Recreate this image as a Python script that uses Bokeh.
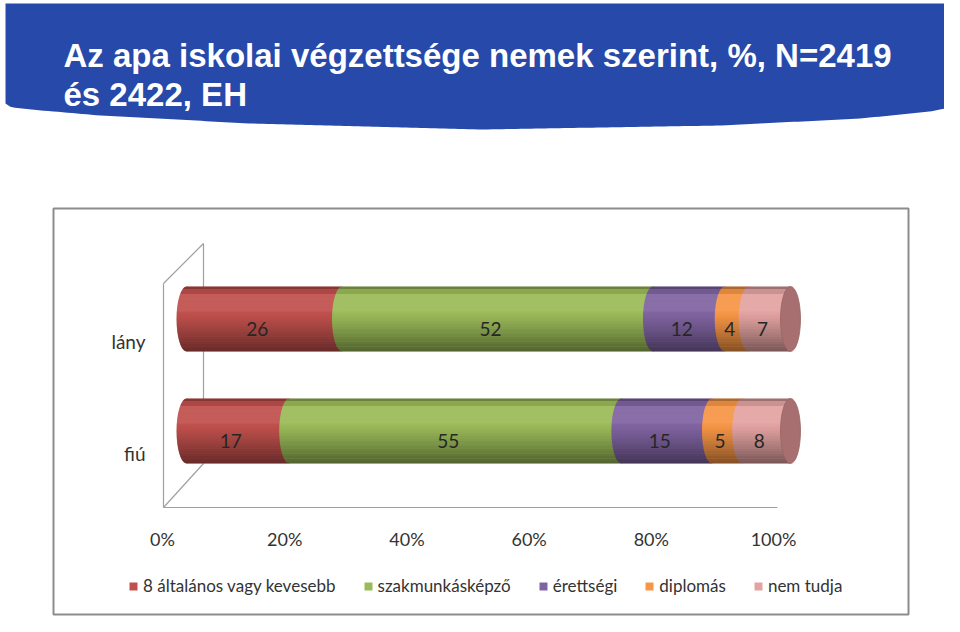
import numpy as np
from bokeh.plotting import figure
from bokeh.models import Range1d, Legend, LegendItem, ColumnDataSource
from bokeh.core.properties import value
from bokeh.embed import file_html
from bokeh.resources import INLINE

# ---------------- data ----------------
title_lines = ["Az apa iskolai végzettsége nemek szerint, %, N=2419", "és 2422, EH"]
groups = ["lány", "fiú"]
series = ["8 általános vagy kevesebb", "szakmunkásképző", "érettségi", "diplomás", "nem tudja"]
lany = [26, 52, 12, 4, 7]
fiu = [17, 55, 15, 5, 8]
colors = ["#C0504D", "#9BBB59", "#8064A2", "#F79646", "#E3A3A2"]
ticks = [0, 20, 40, 60, 80, 100]
tick_labels = ["0%", "20%", "40%", "60%", "80%", "100%"]

# ---------------- geometry (screen px) ----------------
W, H = 944, 616
PCT0_PX, PCT_PX = 186.0, 6.04      # bar 0% position and px per percent
AX0_PX, AX_PX = 162.0, 6.11        # axis label 0% position and px per percent
CAT0_PX, CAT_PX = 318.5, 112.0     # first bar centre and px per category
BAR_HALF = 32.5 / CAT_PX           # bar half height in category units
CAP_HALF = 10.0 / PCT_PX           # half width of the cylinder ends in percent units

p = figure(width=W, height=H, output_backend="svg", toolbar_location=None,
           x_range=Range1d(0, W), y_range=Range1d(H, 0),
           x_axis_type=None, y_axis_type=None, min_border=0)
p.outline_line_color = None
p.background_fill_color = "white"
p.border_fill_color = "white"

pct_start = -PCT0_PX / PCT_PX
p.extra_x_ranges["pct"] = Range1d(pct_start, pct_start + W / PCT_PX)
ax_start = -AX0_PX / AX_PX
p.extra_x_ranges["axis"] = Range1d(ax_start, ax_start + W / AX_PX)
cat_top = -CAT0_PX / CAT_PX
p.extra_y_ranges["cat"] = Range1d(cat_top + H / CAT_PX, cat_top)

# ---------------- header banner ----------------
bx = np.linspace(5, 955, 200)
edge_x = [5, 6, 12, 30, 100, 250, 480, 720, 860, 930, 950, 955]
edge_y = [103, 105, 107, 109, 115, 123, 129, 125, 118, 111, 107, 104]
by = np.interp(bx, edge_x, edge_y)
p.patch(x=[5] + list(bx) + [955], y=[3] + list(by) + [3],
        fill_color="#2649AA", line_color=None)
p.text(x=[63, 63], y=[55, 94], text=title_lines,
       text_font=value("Liberation Sans"), text_font_style="bold",
       text_font_size="33px", text_color="white", text_baseline="middle")

# ---------------- chart box ----------------
p.quad(left=[53], right=[908], top=[208], bottom=[614],
       fill_color=None, line_color="#8C8C8C", line_width=2)

# 3D wall and floor
wall_xs = [[203, 203], [163, 163], [163, 203], [163, 203], [163, 777]]
wall_ys = [[243, 463], [283, 507], [283, 243], [507, 463], [507, 507]]
p.multi_line(xs=wall_xs, ys=wall_ys, line_color="#A0A0A0", line_width=1.2)

# ---------------- stacked cylinders ----------------
data = [lany, fiu]
norm = [np.array(v, float) / sum(v) * 100 for v in data]
cums = [np.concatenate([[0], np.cumsum(n)]) for n in norm]

bar_renderers = []
for k in range(len(series)):
    src = ColumnDataSource(dict(
        y=list(range(len(groups))),
        left=[cums[g][k] for g in range(len(groups))],
        right=[cums[g][k + 1] for g in range(len(groups))],
    ))
    p.ellipse(x="left", y="y", width=2 * CAP_HALF, height=2 * BAR_HALF, source=src,
              fill_color=colors[k], line_color=None,
              x_range_name="pct", y_range_name="cat")
    r = p.hbar(y="y", left="left", right="right", height=2 * BAR_HALF, source=src,
               fill_color=colors[k], line_color=None,
               x_range_name="pct", y_range_name="cat")
    bar_renderers.append(r)

# cylinder shading
def shade(t):
    if t < 0.05:
        return "black", 0.30
    if t < 0.12:
        return "black", 0.10
    if t < 0.40:
        return "white", 0.07
    return "black", min(0.45, 0.48 * ((t - 0.40) / 0.60) ** 1.2)

N = 26
sx, sy, sc, sa = [], [], [], []
for g in range(len(groups)):
    for i in range(N):
        t0, t1 = i / N, (i + 1) / N
        ya = g - BAR_HALF + 2 * BAR_HALF * t0
        yb = g - BAR_HALF + 2 * BAR_HALF * t1
        yy = np.linspace(ya, yb, 4)
        xx = -CAP_HALF * np.sqrt(np.clip(1 - ((yy - g) / BAR_HALF) ** 2, 0, 1))
        c, a = shade((t0 + t1) / 2)
        sx.append(list(xx) + [100, 100])
        sy.append(list(yy) + [yb, ya])
        sc.append(c)
        sa.append(a)
p.patches(xs=sx, ys=sy, fill_color=sc, fill_alpha=sa, line_color=None,
          x_range_name="pct", y_range_name="cat")

# right end caps
p.ellipse(x=[100] * len(groups), y=list(range(len(groups))), width=2 * CAP_HALF,
          height=2 * BAR_HALF, fill_color="#A86F70", line_color="#9A6262",
          line_width=0.8, x_range_name="pct", y_range_name="cat")

# data labels
lx, ly, lt = [], [], []
for g in range(len(groups)):
    for k in range(len(series)):
        lx.append((cums[g][k] + cums[g][k + 1]) / 2)
        ly.append(g)
        lt.append(str(data[g][k]))
p.text(x=lx, y=ly, text=lt, x_offset=-7, y_offset=10,
       text_font=value("Lato"), text_font_size="19px", text_color="#262626",
       text_align="center", text_baseline="middle",
       x_range_name="pct", y_range_name="cat")

# category labels
p.text(x=[145] * len(groups), y=list(range(len(groups))), text=groups, y_offset=22,
       text_font=value("Lato"), text_font_size="19px", text_color="#333333",
       text_align="right", text_baseline="middle", y_range_name="cat")

# axis tick labels
p.text(x=ticks, y=[538] * len(ticks), text=tick_labels,
       text_font=value("Lato"), text_font_size="18px", text_color="#333333",
       text_align="center", text_baseline="middle", x_range_name="axis")

# legend
legend = Legend(items=[LegendItem(label=series[k], renderers=[bar_renderers[k]])
                       for k in range(len(series))],
                orientation="horizontal", location=(128, 20),
                glyph_width=10, glyph_height=10, label_standoff=5, spacing=27,
                padding=0, margin=0, label_height=20,
                label_text_font="Lato", label_text_font_size="17px",
                label_text_color="#333333",
                border_line_color=None, background_fill_alpha=0)
p.add_layout(legend)

open("out.html", "w").write(file_html(p, INLINE))
